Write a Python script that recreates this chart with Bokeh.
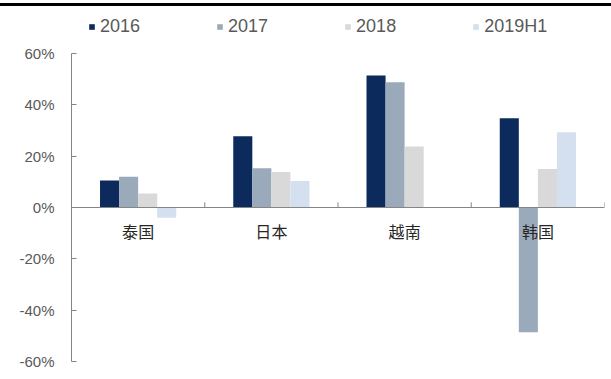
import math
from bokeh.plotting import figure
from bokeh.models import (ColumnDataSource, FactorRange, Range1d, Legend, LegendItem,
                          Span, FixedTicker)
from bokeh.transform import dodge
from bokeh.core.properties import value
from bokeh.embed import file_html
from bokeh.resources import INLINE

# ---- data ----
categories = ["泰国", "日本", "越南", "韩国"]
series = ["2016", "2017", "2018", "2019H1"]
v2016 = [10.5, 27.8, 51.4, 34.8]
v2017 = [12.0, 15.3, 48.8, -48.6]
v2018 = [5.5, 13.8, 23.8, 15.0]
v2019h1 = [-4.0, 10.3, float("nan"), 29.3]
y_ticks = [-60, -40, -20, 0, 20, 40, 60]

colors = ["#0C2A5C", "#9BAABB", "#D9D9D9", "#D4E0EF"]
bar_w = 0.143
offsets = [-1.5 * bar_w, -0.5 * bar_w, 0.5 * bar_w, 1.5 * bar_w]

source = ColumnDataSource(data=dict(cat=categories, s2016=v2016, s2017=v2017,
                                    s2018=v2018, s2019h1=v2019h1,
                                    base=[0] * len(categories)))
cols = ["s2016", "s2017", "s2018", "s2019h1"]

# frame spans the full canvas height above the bottom border; the value axis is
# bounded to the tick range, the space above 60% holds the legend
px_per_unit = 308 / (y_ticks[-1] - y_ticks[0])
top_room = 53 / px_per_unit

p = figure(width=611, height=379, output_backend="svg", toolbar_location=None,
           x_range=FactorRange(*categories, range_padding=0),
           y_range=Range1d(y_ticks[0], y_ticks[-1] + top_room),
           x_axis_location=None,
           min_border_left=71, min_border_right=7, min_border_top=0, min_border_bottom=18,
           styles={"box-shadow": "inset 0 3px 0 0 #fff, inset 0 6px 0 0 #000"})
p.outline_line_color = None
p.grid.visible = False
p.background_fill_color = None
p.border_fill_color = None

renderers = []
for col, off, c in zip(cols, offsets, colors):
    r = p.vbar(x=dodge("cat", off, range=p.x_range), top=col, bottom=0, width=bar_w,
               source=source, fill_color=c, line_color=None)
    renderers.append(r)

axis_color = "#858585"
p.add_layout(Span(location=0, dimension="width", line_color=axis_color, line_width=1))
# boundary tick marks on the category axis
p.segment(x0=dodge("cat", 0.5, range=p.x_range), x1=dodge("cat", 0.5, range=p.x_range),
          y0="base", y1=2, source=source, line_color=axis_color, line_width=1)

# category labels under the zero line
p.text(x="cat", y="base", text="cat", source=source, text_align="center",
       text_baseline="top", y_offset=11, text_font=value("Noto Sans CJK SC"),
       text_font_size="16px", text_color="#262626")

ya = p.yaxis[0]
ya.ticker = FixedTicker(ticks=y_ticks)
ya.bounds = (y_ticks[0], y_ticks[-1])
ya.major_label_overrides = {t: f"{t}%" for t in y_ticks}
ya.axis_line_color = axis_color
ya.major_tick_line_color = axis_color
ya.major_tick_in = 5
ya.major_tick_out = 0
ya.minor_tick_line_color = None
ya.major_label_standoff = 17
ya.major_label_text_font = "Liberation Sans"
ya.major_label_text_font_size = "15px"
ya.major_label_text_color = "#595959"

legend = Legend(items=[LegendItem(label=s, renderers=[r]) for s, r in zip(series, renderers)],
                orientation="horizontal", location=(17, 324))
legend.glyph_width = 7
legend.glyph_height = 7
legend.label_standoff = 5
legend.spacing = 76
legend.padding = 0
legend.margin = 0
legend.border_line_color = None
legend.background_fill_alpha = 0
legend.label_text_font = "Liberation Sans"
legend.label_text_font_size = "18px"
legend.label_text_color = "#595959"
p.add_layout(legend, "center")

open("out.html", "w").write(file_html(p, INLINE))
